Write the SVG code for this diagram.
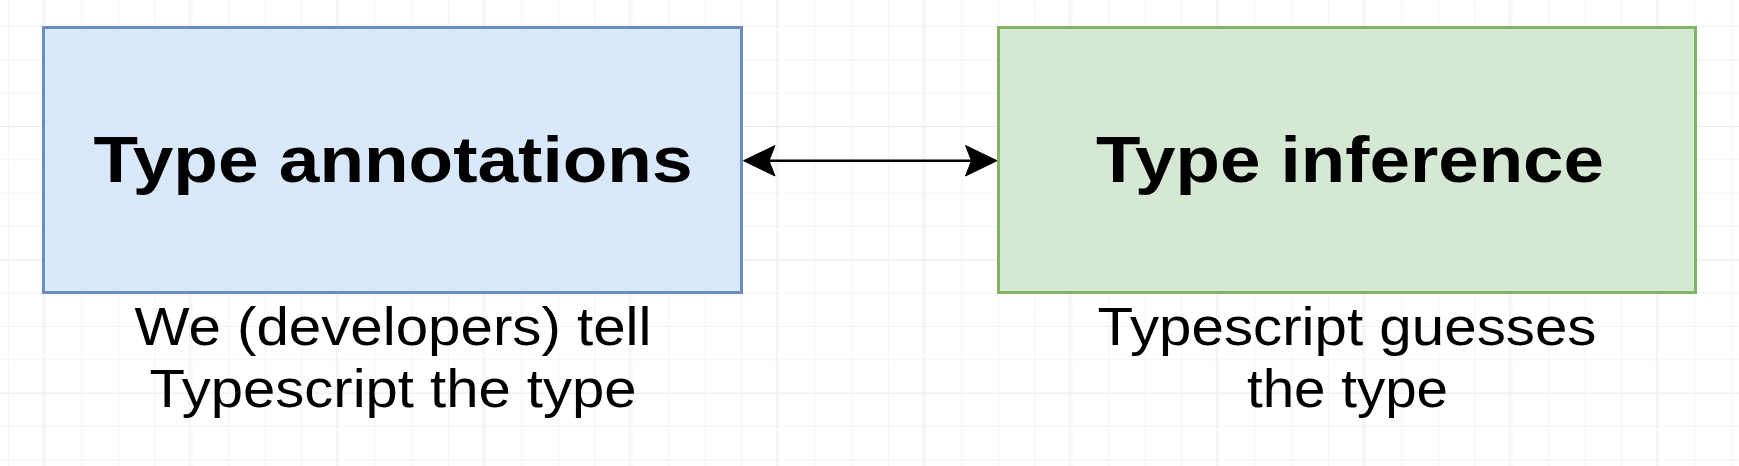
<svg xmlns="http://www.w3.org/2000/svg" width="1739" height="466" viewBox="0 0 1739 466">
  <defs>
    <pattern id="gridMinor" x="8" y="26" width="36.667" height="33.333" patternUnits="userSpaceOnUse">
      <path d="M0.5,0 V33.333 M0,0.5 H36.667" stroke="#f3f3f3" stroke-width="1" fill="none"/>
    </pattern>
    <pattern id="gridMajor" x="42.5" y="126" width="146.667" height="133.333" patternUnits="userSpaceOnUse">
      <path d="M0.5,0 V133.333 M0,0.5 H146.667" stroke="#ebebeb" stroke-width="1" fill="none"/>
    </pattern>
    <style>
      .title { font-family: "Liberation Sans", Arial, Helvetica, sans-serif; font-weight: 700; font-size: 65px; fill: #000; }
      .sub { font-family: "Liberation Sans", Arial, Helvetica, sans-serif; font-size: 54px; fill: #000; }
      .edge { stroke: #000; stroke-width: 2.5; fill: none; }
      .head { fill: #000; stroke: #000; stroke-width: 1; stroke-linejoin: miter; }
    </style>
  </defs>
  <rect x="0" y="0" width="1739" height="466" fill="#ffffff"/>
  <rect x="0" y="0" width="1739" height="466" fill="url(#gridMinor)"/>
  <rect x="0" y="0" width="1739" height="466" fill="url(#gridMajor)"/>

  <g id="node-annotations">
    <rect x="43.5" y="27.5" width="698" height="265" fill="#dae8fc" stroke="#6c8ebf" stroke-width="3"/>
    <text class="title" x="393" y="182" text-anchor="middle" textLength="599" lengthAdjust="spacingAndGlyphs">Type annotations</text>
    <text class="sub" x="393" y="345" text-anchor="middle" textLength="517" lengthAdjust="spacingAndGlyphs">We (developers) tell</text>
    <text class="sub" x="393" y="407" text-anchor="middle" textLength="487" lengthAdjust="spacingAndGlyphs">Typescript the type</text>
  </g>

  <g id="node-inference">
    <rect x="998.5" y="27.5" width="697" height="265" fill="#d5e8d4" stroke="#82b366" stroke-width="3"/>
    <text class="title" x="1350" y="182" text-anchor="middle" textLength="508" lengthAdjust="spacingAndGlyphs">Type inference</text>
    <text class="sub" x="1347" y="345" text-anchor="middle" textLength="499" lengthAdjust="spacingAndGlyphs">Typescript guesses</text>
    <text class="sub" x="1347.5" y="407" text-anchor="middle" textLength="201" lengthAdjust="spacingAndGlyphs">the type</text>
  </g>

  <g id="connectors">
    <line class="edge" x1="768" y1="160.7" x2="972" y2="160.7"/>
    <path class="head" d="M743.5,160.7 L775,145.5 L769,160.7 L775,176 Z"/>
    <path class="head" d="M997,160.7 L965.5,145.5 L971.5,160.7 L965.5,176 Z"/>
  </g>
</svg>
